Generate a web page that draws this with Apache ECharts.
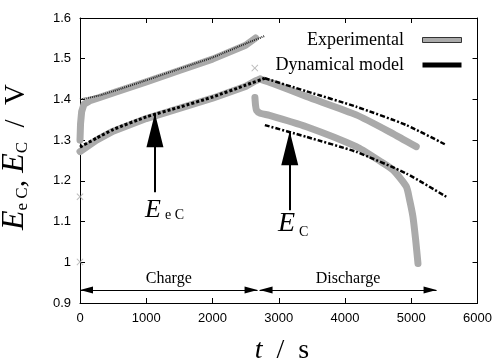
<!DOCTYPE html>
<html><head><meta charset="utf-8">
<script src="https://cdn.jsdelivr.net/npm/echarts@6/dist/echarts.min.js"></script>
<style>html,body{margin:0;padding:0;background:#fff}#c{width:495px;height:360px}</style>
</head><body><div id="c"></div>
<script>
// axis ranges
const xMin = 0, xMax = 6000, xStep = 1000;
const yMin = 0.9, yMax = 1.6, yStep = 0.1;

// Experimental E_C, charge
const expCChargeT = [0, 8, 25, 60, 150, 300, 500, 1000, 1500, 2000, 2500, 2650];
const expCChargeV = [1.300, 1.340, 1.370, 1.388, 1.397, 1.405, 1.416, 1.443, 1.471, 1.499, 1.533, 1.551];
// Model E_C, charge
const modCChargeT = [0, 300, 500, 1000, 1500, 2000, 2500, 2790];
const modCChargeV = [1.400, 1.410, 1.420, 1.447, 1.475, 1.503, 1.537, 1.556];
// Experimental E_eC, charge
const expECChargeT = [0, 250, 500, 1000, 1500, 2000, 2500, 2650, 2720];
const expECChargeV = [1.272, 1.300, 1.322, 1.353, 1.378, 1.403, 1.432, 1.446, 1.450];
// Model E_eC, charge
const modECChargeT = [0, 250, 500, 1000, 1500, 2000, 2500, 2790];
const modECChargeV = [1.283, 1.305, 1.326, 1.357, 1.381, 1.406, 1.435, 1.452];
// Experimental E_eC, discharge
const expECDisT = [2720, 2900, 3418, 4171, 4700, 5075];
const expECDisV = [1.450, 1.440, 1.407, 1.362, 1.318, 1.284];
// Model E_eC, discharge
const modECDisT = [2790, 3418, 4171, 4925, 5528];
const modECDisV = [1.452, 1.420, 1.382, 1.337, 1.288];
// Experimental E_C, discharge
const expCDisT = [2640, 2650, 2665, 2720, 2860, 3418, 4171, 4523, 4724, 4925, 4975, 5025, 5066, 5101];
const expCDisV = [1.405, 1.385, 1.373, 1.366, 1.361, 1.333, 1.284, 1.249, 1.227, 1.186, 1.153, 1.112, 1.055, 0.997];
// Model E_C, discharge
const modCDisT = [2790, 3418, 4171, 4925, 5528];
const modCDisV = [1.337, 1.308, 1.271, 1.218, 1.161];
// isolated experimental points
const outT = [2638, 0, 0];
const outV = [1.477, 1.161, 1.001];

// annotation arrows
const arrowT = [1131, 3166];
const arrowFromV = [1.172, 1.128];
const arrowToV = [1.366, 1.322];
// phase arrows
const phaseNames = ['Charge', 'Discharge'];
const phaseStart = [0, 2710];
const phaseEnd = [2680, 5382];
const phaseV = 0.932;

const zip = (t, v) => t.map((x, i) => [x, v[i]]);
const GRAY = '#aaaaaa';
const SERIF = '"Liberation Serif", "DejaVu Serif", serif';
const SANS = '"Liberation Sans", Arial, sans-serif';
const HEAD = 'path://M0 0L1 2L-1 2ZM0 -2';

function expSeries(t, v, smooth) {
  return { name: 'Experimental', type: 'line', data: zip(t, v), symbol: 'none',
    smooth: smooth || false,
    lineStyle: { color: GRAY, width: 7, cap: 'round', join: 'round' },
    itemStyle: { color: GRAY }, z: 2, silent: true };
}
function modSeries(t, v, dash, width, color) {
  return { name: 'Dynamical model', type: 'line', data: zip(t, v), symbol: 'none',
    smooth: 0.2,
    lineStyle: { color: color || '#000', width: width, type: dash },
    itemStyle: { color: '#000' }, z: 3, silent: true };
}

const markData = [];
arrowT.forEach((t, i) => {
  markData.push([
    { coord: [t, arrowFromV[i]], symbol: 'none', lineStyle: { color: '#000', width: 2, type: 'solid' } },
    { coord: [t, arrowToV[i]], symbol: HEAD, symbolSize: [17, 68] }
  ]);
});
phaseNames.forEach((n, i) => {
  markData.push([
    { coord: [phaseStart[i], phaseV], symbol: HEAD, symbolSize: [7, 26],
      lineStyle: { color: '#000', width: 1, type: 'solid' },
      label: { show: true, formatter: n, position: 'middle', distance: 3, color: '#000',
        fontFamily: SERIF, fontSize: 16 } },
    { coord: [phaseEnd[i], phaseV], symbol: HEAD, symbolSize: [7, 26] }
  ]);
});

const axisCommon = {
  type: 'value', splitLine: { show: false },
  axisLine: { show: true, onZero: false, lineStyle: { color: '#000', width: 1 } },
  axisTick: { show: true, inside: true, length: 5, lineStyle: { color: '#000' } }
};
const lab = { color: '#000', fontFamily: SANS, fontSize: 13, margin: 9, formatter: v => String(v) };

const option = {
  animation: false,
  backgroundColor: '#fff',
  grid: { left: 80, right: 17, top: 18, bottom: 57 },
  xAxis: [
    Object.assign({}, axisCommon, { min: xMin, max: xMax, interval: xStep, position: 'bottom', axisLabel: lab }),
    Object.assign({}, axisCommon, { min: xMin, max: xMax, interval: xStep, position: 'top',
      axisLabel: { show: false } })
  ],
  yAxis: [
    Object.assign({}, axisCommon, { min: yMin, max: yMax, interval: yStep, position: 'left', axisLabel: lab }),
    Object.assign({}, axisCommon, { min: yMin, max: yMax, interval: yStep, position: 'right',
      axisLabel: { show: false } })
  ],
  legend: {
    orient: 'vertical', right: 28, top: 25, align: 'right', itemGap: 5,
    itemWidth: 39, itemHeight: 5, icon: 'rect',
    textStyle: { fontFamily: SERIF, fontSize: 18, color: '#000', lineHeight: 20 },
    formatter: n => n + '   ',
    selectedMode: false,
    data: [
      { name: 'Experimental', itemStyle: { color: GRAY, borderColor: '#333', borderWidth: 1 } },
      { name: 'Dynamical model', itemStyle: { color: '#000' } }
    ]
  },
  series: [
    expSeries(expCChargeT, expCChargeV),
    expSeries(expECChargeT, expECChargeV),
    expSeries(expECDisT, expECDisV, 0.2),
    expSeries(expCDisT, expCDisV, 0.2),
    modSeries(modCChargeT, modCChargeV, [1, 1], 2, '#222'),
    modSeries(modECChargeT, modECChargeV, [3, 2], 3),
    modSeries(modECDisT, modECDisV, [5, 2, 2, 2], 2.5),
    modSeries(modCDisT, modCDisV, [5, 2, 2, 2], 2.5),
    { name: 'points', type: 'scatter', data: zip(outT, outV),
      symbol: 'path://M0,1L1,0L5,4L9,0L10,1L6,5L10,9L9,10L5,6L1,10L0,9L4,5Z',
      symbolSize: 7, itemStyle: { color: GRAY }, z: 2, silent: true,
      markLine: { silent: true, animation: false, symbol: ['none', 'none'],
        label: { show: false }, data: markData } }
  ],
  graphic: [
    { type: 'text', x: 15, y: 157, rotation: Math.PI / 2, z: 10,
      style: { text: '{E|E}{s|e C}{p|, }{E|E}{s|C}{p|  /  V}', align: 'center', verticalAlign: 'middle', fill: '#000',
        rich: {
          E: { fontFamily: SERIF, fontStyle: 'italic', fontSize: 32, verticalAlign: 'bottom', fill: '#000' },
          s: { fontFamily: SERIF, fontSize: 17, verticalAlign: 'bottom', fill: '#000' },
          p: { fontFamily: SERIF, fontSize: 29, verticalAlign: 'bottom', fill: '#000' }
        } } },
    { type: 'text', x: 145, y: 210, z: 10,
      style: { text: 'E', font: 'italic 26px ' + SERIF, fill: '#000', verticalAlign: 'middle' } },
    { type: 'text', x: 165, y: 215, z: 10,
      style: { text: 'e C', font: '14px ' + SERIF, fill: '#000', verticalAlign: 'middle' } },
    { type: 'text', x: 278, y: 224, z: 10,
      style: { text: 'E', font: 'italic 28px ' + SERIF, fill: '#000', verticalAlign: 'middle' } },
    { type: 'text', x: 299, y: 232, z: 10,
      style: { text: 'C', font: '14px ' + SERIF, fill: '#000', verticalAlign: 'middle' } },
    { type: 'text', x: 282, y: 351, z: 10,
      style: { text: '{i|t}{n|  /  s}', align: 'center', verticalAlign: 'middle', fill: '#000',
        rich: {
          i: { fontFamily: SERIF, fontStyle: 'italic', fontSize: 28, fill: '#000' },
          n: { fontFamily: SERIF, fontSize: 28, fill: '#000' }
        } } }
  ]
};
const chart = echarts.init(document.getElementById('c'));
chart.setOption(option);
</script>
</body></html>
